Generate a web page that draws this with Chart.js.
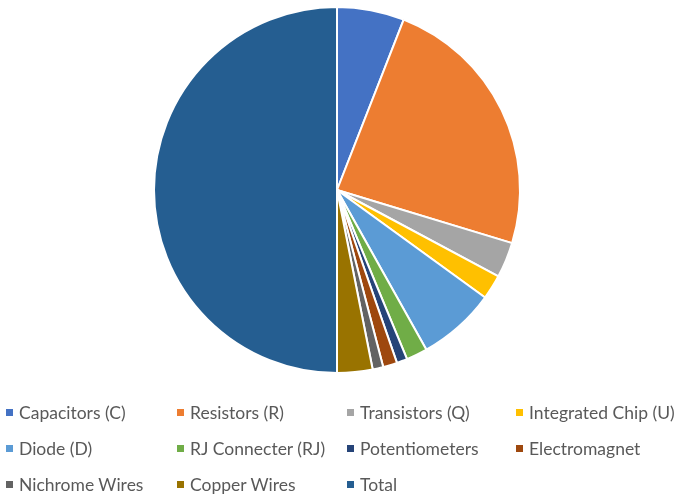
<!DOCTYPE html>
<html>
<head>
<meta charset="utf-8">
<script src="https://cdn.jsdelivr.net/npm/chart.js@4"></script>
<style>
    body { margin: 0; background: #fff; }
    #wrap { position: relative; width: 682px; height: 496px; }
    #legend {
        position: absolute; left: 6px; top: 401px; width: 680px;
        display: grid; grid-template-columns: 171px 170px 169px 170px;
        row-gap: 14px;
        font-family: Lato, "Open Sans", sans-serif; font-size: 17.5px; color: #595959;
    }
    .item { display: flex; align-items: center; height: 22px; white-space: nowrap; }
    .box { width: 7px; height: 7px; margin-right: 6px; }
</style>
</head>
<body>
<div id="wrap">
    <canvas id="pieChart" width="682" height="496"></canvas>
    <div id="legend"></div>
</div>
<script>
// components in stock, last one is the total of all the others
const labels = ["Capacitors (C)", "Resistors (R)", "Transistors (Q)", "Integrated Chip (U)",
    "Diode (D)", "RJ Connecter (RJ)", "Potentiometers", "Electromagnet",
    "Nichrome Wires", "Copper Wires", "Total"];
const counts = [19, 76, 10, 7, 22, 6, 3, 4, 3, 10, 160];
const colors = ["#4472C4", "#ED7D31", "#A5A5A5", "#FFC000", "#5B9BD5", "#70AD47",
    "#264478", "#9E480E", "#636363", "#997300", "#255E91"];

const ctx = document.getElementById('pieChart').getContext('2d');
const chart = new Chart(ctx, {
    type: 'pie',
    data: {
        labels: labels,
        datasets: [{
            data: counts,
            backgroundColor: colors,
            borderColor: '#ffffff',
            borderWidth: 2
        }]
    },
    options: {
        responsive: false,
        animation: false,
        layout: { padding: { top: 6, bottom: 122, left: 0, right: 8 } },
        plugins: {
            legend: { display: false },
            tooltip: { enabled: false }
        }
    }
});

// legend in a fixed 4 column grid like the original
const legend = document.getElementById('legend');
labels.forEach((name, i) => {
    legend.innerHTML += `<div class="item"><span class="box" style="background:${colors[i]}"></span>${name}</div>`;
});
</script>
</body>
</html>
